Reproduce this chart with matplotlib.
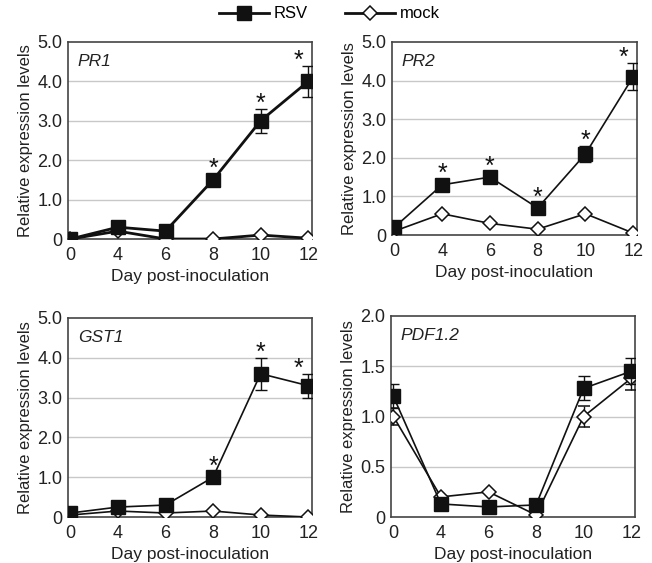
import matplotlib
matplotlib.use("Agg")
import matplotlib.pyplot as plt
from matplotlib.lines import Line2D
import numpy as np

plt.rcParams['font.family'] = ['Liberation Sans', 'DejaVu Sans']

days = ["0", "4", "6", "8", "10", "12"]

pr1_rsv = [0.0, 0.3, 0.2, 1.5, 3.0, 4.0]
pr1_rsv_err = [0, 0, 0, 0, 0.3, 0.4]
pr1_mock = [0.0, 0.2, 0.0, 0.0, 0.1, 0.02]
pr1_mock_err = [0, 0, 0, 0, 0, 0]
pr1_stars = [3, 4, 5]

pr2_rsv = [0.2, 1.3, 1.5, 0.7, 2.1, 4.1]
pr2_rsv_err = [0, 0, 0, 0, 0.2, 0.35]
pr2_mock = [0.1, 0.55, 0.3, 0.15, 0.55, 0.05]
pr2_mock_err = [0, 0, 0, 0, 0, 0]
pr2_stars = [1, 2, 3, 4, 5]

gst1_rsv = [0.1, 0.25, 0.3, 1.0, 3.6, 3.3]
gst1_rsv_err = [0, 0, 0, 0, 0.4, 0.3]
gst1_mock = [0.05, 0.15, 0.1, 0.15, 0.05, 0.0]
gst1_mock_err = [0, 0, 0, 0, 0, 0]
gst1_stars = [3, 4, 5]

pdf_rsv = [1.2, 0.13, 0.1, 0.12, 1.28, 1.45]
pdf_rsv_err = [0.12, 0, 0, 0, 0.12, 0.13]
pdf_mock = [1.0, 0.2, 0.25, 0.02, 1.0, 1.38]
pdf_mock_err = [0.08, 0, 0, 0, 0.1, 0.12]
pdf_stars = []

panels = [
    ("PR1", pr1_rsv, pr1_rsv_err, pr1_mock, pr1_mock_err, pr1_stars, 5.0, 1.0, 2.0,
     [68/652, 1 - 239/563, 244/652, 197/563]),
    ("PR2", pr2_rsv, pr2_rsv_err, pr2_mock, pr2_mock_err, pr2_stars, 5.0, 1.0, 1.2,
     [392/652, 1 - 235/563, 245/652, 193/563]),
    ("GST1", gst1_rsv, gst1_rsv_err, gst1_mock, gst1_mock_err, gst1_stars, 5.0, 1.0, 1.2,
     [68/652, 1 - 517/563, 244/652, 199/563]),
    ("PDF1.2", pdf_rsv, pdf_rsv_err, pdf_mock, pdf_mock_err, pdf_stars, 2.0, 0.5, 1.2,
     [391/652, 1 - 517/563, 244/652, 201/563]),
]

STAR_FS = 18

fig = plt.figure(figsize=(6.52, 5.63), dpi=100)
x = np.arange(len(days))
for name, rsv, rsv_err, mock, mock_err, stars, ymax, step, lw, rect in panels:
    ax = fig.add_axes(rect)
    ticks = np.arange(0, ymax + step / 2, step)
    for t in ticks[1:-1]:
        ax.axhline(t, color='#c8c8c8', lw=1.0, zorder=0)
    ax.errorbar(x, mock, yerr=mock_err, color='#111111', lw=lw, marker='D', ms=7,
                mfc='white', mec='#111111', mew=1.1, capsize=4, elinewidth=1.0, zorder=3)
    ax.errorbar(x, rsv, yerr=rsv_err, color='#111111', lw=lw, marker='s', ms=9.5,
                mfc='#111111', mec='#111111', capsize=4, elinewidth=1.0, zorder=4)
    for i in stars:
        if rsv_err[i] > 0:
            ystar = rsv[i] + rsv_err[i]
            dy_pt = 9
        else:
            ystar = rsv[i]
            dy_pt = 13
        dx_pt = -7 if i == len(days) - 1 else 0
        ax.annotate("*", xy=(x[i], ystar), xytext=(dx_pt, dy_pt - 0.58 * STAR_FS),
                    textcoords='offset points', ha='center', va='baseline',
                    fontsize=STAR_FS, color='#111111', annotation_clip=False)
    ax.set_xlim(-0.05, 5.08)
    ax.set_ylim(0, ymax)
    ax.set_yticks(ticks)
    labels = ["0"] + [f"{t:.1f}" for t in ticks[1:]]
    ax.set_yticklabels(labels)
    ax.set_xticks(x)
    ax.set_xticklabels(days)
    ax.tick_params(axis='x', length=0, labelsize=13, colors='#222222', pad=6)
    ax.tick_params(axis='y', length=0, labelsize=13, colors='#222222', pad=4)
    for s in ax.spines.values():
        s.set_color('#444444')
        s.set_linewidth(1.2)
    ax.set_ylabel("Relative expression levels", fontsize=12, color='#222222', labelpad=3)
    ax.set_xlabel("Day post-inoculation", fontsize=12.5, color='#222222', labelpad=3)
    ax.text(0.04, 0.94, name, transform=ax.transAxes, fontsize=12.5, style='italic',
            ha='left', va='top', color='#222222')

handles = [
    Line2D([], [], color='#111111', lw=2, marker='s', ms=9.5, mfc='#111111'),
    Line2D([], [], color='#111111', lw=2, marker='D', ms=7, mfc='white', mew=1.1),
]
fig.legend(handles, ["RSV", "mock"], loc='center', bbox_to_anchor=(0.505, 1 - 14/563),
           ncol=2, frameon=False, fontsize=12, handlelength=3, columnspacing=2.2,
           handletextpad=0.3)

fig.savefig("out.png", dpi=100)
